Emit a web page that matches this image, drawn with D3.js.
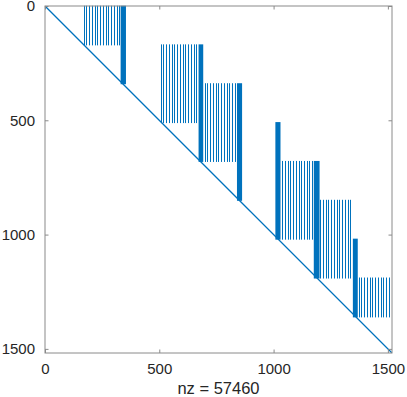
<!DOCTYPE html>
<html>
<head>
<meta charset="utf-8">
<script src="https://cdn.jsdelivr.net/npm/d3@7"></script>
<style>
  body { margin: 0; background: #fff; }
  svg { display: block; }
  .tick text { font-family: "Liberation Sans", Arial, sans-serif; font-size: 15px; fill: #262626; }
  .tick line { stroke: #8a8a8a; }
</style>
</head>
<body>
<div id="chart"></div>
<script>
// matrix size and nonzero count (spy plot)
const matSize = 1517;
const nzCount = 57460;
const tickValues = [0, 500, 1000, 1500];

// sparse columns drawn as thin lines, one list per block
const thinColumns = [
  [169, 181, 193, 205, 217, 229, 241, 253, 265, 277, 289, 301, 313, 325],
  [506, 518, 530, 542, 554, 566, 578, 590, 602, 614, 626, 638, 650, 662],
  [698, 710, 722, 734, 746, 758, 770, 782, 794, 806, 818, 830],
  [1037, 1049, 1061, 1073, 1085, 1097, 1109, 1121, 1133, 1145, 1157, 1169],
  [1204, 1216, 1228, 1240, 1252, 1264, 1276, 1288, 1300, 1312, 1324, 1336],
  [1372, 1384, 1396, 1408, 1420, 1432, 1444, 1456, 1468, 1480, 1492, 1504]
];
const thinRowRanges = [[1, 170], [170, 510], [340, 680], [680, 1020], [850, 1190], [1190, 1360]];

// dense column bands [firstCol, lastCol] and their row ranges
const denseColumns = [[333, 352], [674, 690], [842, 860], [1010, 1028], [1178, 1199], [1349, 1366]];
const denseRowRanges = [[1, 340], [170, 680], [340, 850], [510, 1020], [680, 1190], [1020, 1360]];

const W = 407, H = 397;
const plot = {left: 45, right: 392, top: 6, bottom: 353};
const blue = '#0072BD';

const svg = d3.select('#chart').append('svg')
  .attr('width', W)
  .attr('height', H);

const x = d3.scaleLinear().domain([0, matSize + 1]).range([plot.left, plot.right]);
const y = d3.scaleLinear().domain([0, matSize + 1]).range([plot.top, plot.bottom]);

const marks = svg.append('g');

// diagonal
marks.append('line')
  .attr('x1', x(1)).attr('y1', y(1))
  .attr('x2', x(matSize)).attr('y2', y(matSize))
  .attr('stroke', blue)
  .attr('stroke-width', 1.3);

// thin columns
thinColumns.forEach(function (cols, i) {
  var rr = thinRowRanges[i];
  marks.append('g')
    .selectAll('rect')
    .data(cols)
    .enter()
    .append('rect')
    .attr('x', function (d) { return Math.round(x(d)); })
    .attr('y', y(rr[0]) - 0.5)
    .attr('width', 1)
    .attr('height', y(rr[1]) - y(rr[0]) + 1)
    .attr('fill', blue);
});

// dense bands
marks.append('g')
  .selectAll('rect')
  .data(denseColumns)
  .enter()
  .append('rect')
  .attr('x', function (d) { return x(d[0]) - 0.5; })
  .attr('y', function (d, i) { return y(denseRowRanges[i][0]) - 0.5; })
  .attr('width', function (d) { return x(d[1]) - x(d[0]) + 1; })
  .attr('height', function (d, i) { return y(denseRowRanges[i][1]) - y(denseRowRanges[i][0]) + 1; })
  .attr('fill', blue);

// axes, ticks pointing inward
var tick = 3.5;
var fmt = d3.format('d');
svg.append('g')
  .attr('transform', 'translate(0,' + plot.bottom + ')')
  .call(d3.axisBottom(x).tickValues(tickValues).tickFormat(fmt).tickSize(-tick).tickPadding(10).tickSizeOuter(0))
  .call(function (g) { g.select('.domain').remove(); });
svg.append('g')
  .attr('transform', 'translate(0,' + plot.top + ')')
  .call(d3.axisTop(x).tickValues(tickValues).tickSize(-tick).tickFormat('').tickSizeOuter(0))
  .call(function (g) { g.select('.domain').remove(); });
svg.append('g')
  .attr('transform', 'translate(' + plot.left + ',0)')
  .call(d3.axisLeft(y).tickValues(tickValues).tickFormat(fmt).tickSize(-tick).tickPadding(10).tickSizeOuter(0))
  .call(function (g) { g.select('.domain').remove(); });
svg.append('g')
  .attr('transform', 'translate(' + plot.right + ',0)')
  .call(d3.axisRight(y).tickValues(tickValues).tickSize(-tick).tickFormat('').tickSizeOuter(0))
  .call(function (g) { g.select('.domain').remove(); });

// box
svg.append('rect')
  .attr('x', plot.left).attr('y', plot.top)
  .attr('width', plot.right - plot.left)
  .attr('height', plot.bottom - plot.top)
  .attr('fill', 'none')
  .attr('stroke', '#8a8a8a')
  .attr('stroke-width', 1);

// xlabel
svg.append('text')
  .attr('x', (plot.left + plot.right) / 2)
  .attr('y', 394)
  .attr('text-anchor', 'middle')
  .attr('font-family', '"Liberation Sans", Arial, sans-serif')
  .attr('font-size', 16.5)
  .attr('fill', '#262626')
  .text('nz = ' + nzCount);
</script>
</body>
</html>
